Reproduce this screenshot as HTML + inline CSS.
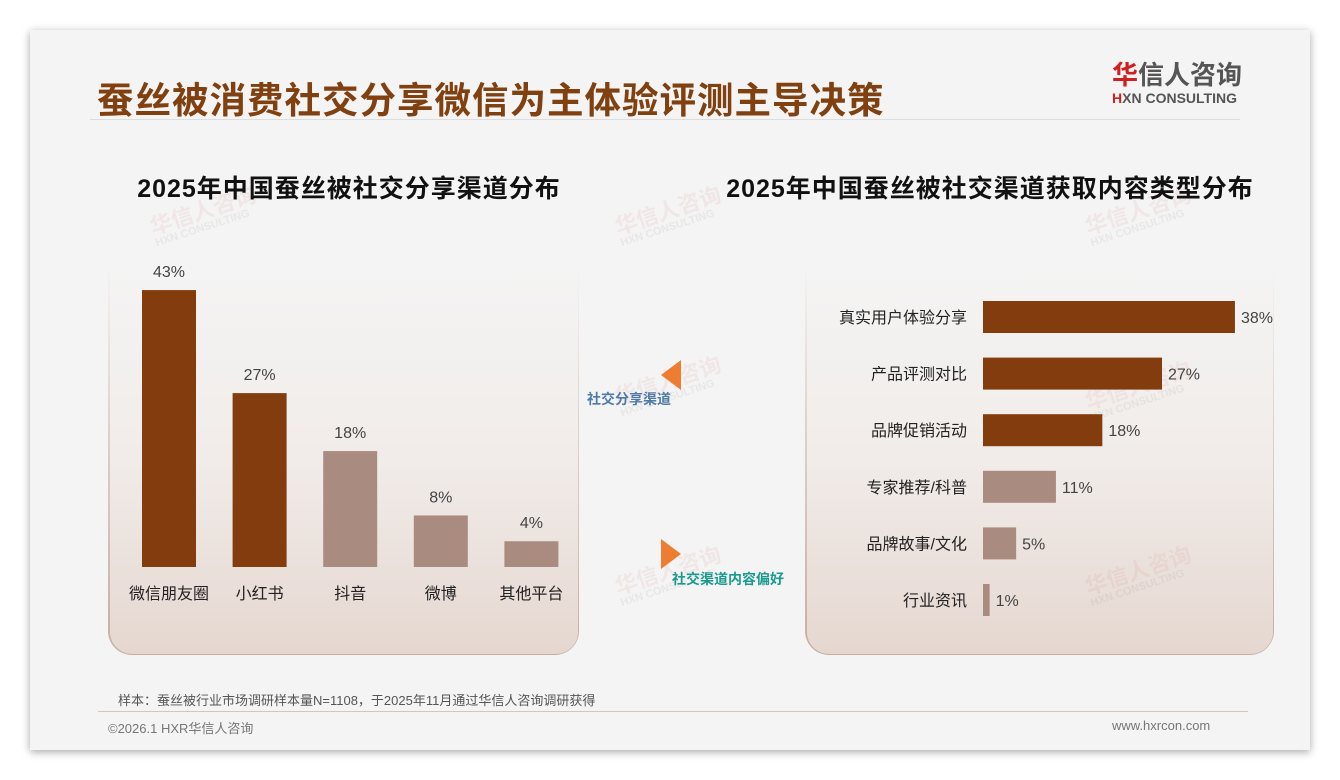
<!DOCTYPE html>
<html><head><meta charset="utf-8">
<style>
body{margin:0;width:1340px;height:780px;background:#fff;position:relative;overflow:hidden;font-family:"Liberation Sans","Noto Sans CJK SC",sans-serif;}
.card{position:absolute;left:30px;top:30px;width:1280px;height:720px;background:#f4f4f4;box-shadow:0 2px 8px rgba(0,0,0,0.35);}
.abs{position:absolute;}
.pwrap{position:absolute;top:265px;height:390px;border-radius:0 0 24px 24px;background:linear-gradient(rgba(203,176,163,0) 0%,rgba(203,176,163,0.5) 40%,#c9ad9f 100%);padding:0 1.5px 1.5px 1.5px;box-sizing:border-box;}
.panel{width:100%;height:100%;border-radius:0 0 22px 22px;background:linear-gradient(#f4f4f4 0%,#f1ece9 50%,#e5d7d0 100%);}
.wm{position:absolute;color:rgba(200,80,80,0.08);font-size:22px;font-weight:bold;transform:rotate(-18deg);line-height:1;}
.wm span{display:block;font-size:11px;color:rgba(120,120,120,0.1);}
</style></head><body>
<div class="card"></div>
<div class="abs" style="left:97px;top:71px;font-size:36.5px;font-weight:bold;color:#80400f;letter-spacing:1px;">蚕丝被消费社交分享微信为主体验评测主导决策</div>
<div class="abs" style="left:90px;top:119px;width:1150px;height:1px;background:#ddd;"></div>
<div class="abs" style="left:1112px;top:61px;width:135px;">
 <div style="font-size:26px;font-weight:bold;color:#555;line-height:29px;"><span style="color:#d11f1f">华</span>信人咨询</div>
 <div style="font-size:14px;font-weight:bold;color:#555;line-height:17px;"><span style="color:#d11f1f">H</span>XN CONSULTING</div>
</div>

<div class="pwrap" style="left:108px;width:471px;"><div class="panel"></div></div>
<div class="pwrap" style="left:805px;width:469px;"><div class="panel"></div></div>

<div class="wm" style="left:150px;top:200px">华信人咨询<span>HXN CONSULTING</span></div>
<div class="wm" style="left:615px;top:200px">华信人咨询<span>HXN CONSULTING</span></div>
<div class="wm" style="left:1085px;top:200px">华信人咨询<span>HXN CONSULTING</span></div>
<div class="wm" style="left:615px;top:370px">华信人咨询<span>HXN CONSULTING</span></div>
<div class="wm" style="left:1085px;top:375px">华信人咨询<span>HXN CONSULTING</span></div>
<div class="wm" style="left:615px;top:560px">华信人咨询<span>HXN CONSULTING</span></div>
<div class="wm" style="left:1085px;top:560px">华信人咨询<span>HXN CONSULTING</span></div>

<div class="abs" style="left:49px;width:600px;text-align:center;top:169px;font-size:25px;font-weight:bold;color:#111;letter-spacing:1px;">2025年中国蚕丝被社交分享渠道分布</div>
<div class="abs" style="left:690px;width:600px;text-align:center;top:169px;font-size:25px;font-weight:bold;color:#111;letter-spacing:1px;">2025年中国蚕丝被社交渠道获取内容类型分布</div>

<div class="abs" style="left:661px;top:360px;width:0;height:0;border-top:15px solid transparent;border-bottom:15px solid transparent;border-right:20px solid #ee7d31;"></div>
<div class="abs" style="left:587px;top:389px;font-size:14px;font-weight:bold;color:#4f7aa8;">社交分享渠道</div>
<div class="abs" style="left:661px;top:539px;width:0;height:0;border-top:15px solid transparent;border-bottom:15px solid transparent;border-left:20px solid #ee7d31;"></div>
<div class="abs" style="left:672px;top:569px;font-size:14px;font-weight:bold;color:#1a9a8f;">社交渠道内容偏好</div>

<svg class="abs" style="left:0;top:0" width="1340" height="780" id="charts"></svg>

<div class="abs" style="left:118px;top:690px;font-size:13px;color:#555;">样本：蚕丝被行业市场调研样本量N=1108，于2025年11月通过华信人咨询调研获得</div>
<div class="abs" style="left:98px;top:711px;width:1150px;height:1px;background:#d8c4b8;"></div>
<div class="abs" style="left:108px;top:718px;font-size:13px;color:#777;">©2026.1 HXR华信人咨询</div>
<div class="abs" style="left:1112px;top:718px;font-size:13px;color:#777;">www.hxrcon.com</div>

<script>
const vCats=["微信朋友圈","小红书","抖音","微博","其他平台"];
const vVals=[43,27,18,8,4];
const hCats=["真实用户体验分享","产品评测对比","品牌促销活动","专家推荐/科普","品牌故事/文化","行业资讯"];
const hVals=[38,27,18,11,5,1];
const svg=document.getElementById('charts');
const NS='http://www.w3.org/2000/svg';
const dark='#823c0e',light='#a98b80';
const FF='Liberation Sans, Noto Sans CJK SC, sans-serif';
function mk(t,a,txt){const e=document.createElementNS(NS,t);for(const k in a)e.setAttribute(k,a[k]);if(txt!=null)e.textContent=txt;svg.appendChild(e);return e;}
const vBase=567,vScale=6.44,vX0=169,vStep=90.6,vW=54;
const vy=v=>vBase-v*vScale, vx=i=>vX0+i*vStep;
vCats.forEach((c,i)=>{
 const col=i<2?dark:light;
 const r=mk('rect',{x:vx(i)-vW/2,y:vy(vVals[i]),width:vW,height:vBase-vy(vVals[i]),fill:col});
 
 
 const t=mk('text',{x:vx(i),y:vy(vVals[i])-13,'text-anchor':'middle','font-size':16,fill:'#444','font-family':FF},vVals[i]+'%');
 
 
 const l=mk('text',{x:vx(i),y:599,'text-anchor':'middle','font-size':16,fill:'#222','font-family':FF},c);
 
 
});
const hX0=983,hScale=6.63,hY0=317,hStep=56.6,hH=32;
const hx=v=>hX0+v*hScale, hy=i=>hY0+i*hStep;
hCats.forEach((c,i)=>{
 const col=i<3?dark:light;
 const r=mk('rect',{x:hX0,y:hy(i)-hH/2,width:hx(hVals[i])-hX0,height:hH,fill:col});
 
 
 const t=mk('text',{x:hx(hVals[i])+6,y:hy(i)+6,'font-size':16,fill:'#444','font-family':FF},hVals[i]+'%');
 
 
 const l=mk('text',{x:967,y:hy(i)+6,'text-anchor':'end','font-size':16,fill:'#222','font-family':FF},c);
 
 
});
</script>
</body></html>
